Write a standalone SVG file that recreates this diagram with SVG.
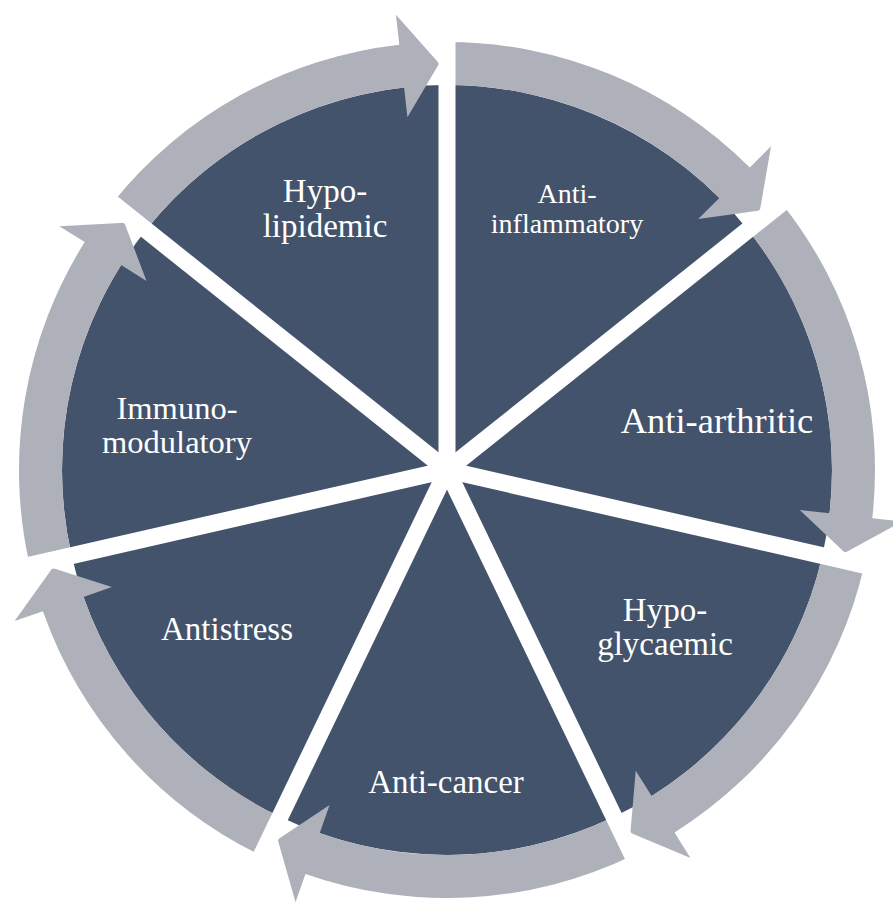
<svg xmlns="http://www.w3.org/2000/svg" xmlns:xlink="http://www.w3.org/1999/xlink" width="893" height="902" viewBox="0 0 893 902">
  <style>
    .wedge { fill: #43536b; }
    .arrow { fill: #aeb1b9; }
    .sep { stroke: #ffffff; stroke-width: 17; stroke-linecap: butt; }
    .lbl { font-family: "Liberation Serif", "Times New Roman", serif; fill: #ffffff; text-anchor: middle; }
  </style>
  <defs>
    <!-- one 1/7 wedge, local frame centred on the hub, starting straight up and running clockwise -->
    <path id="wedge" class="wedge" d="M0,0 L0,-385 A385,385 0 0 1 301.005,-240.044 Z"/>
    <!-- curved band along the wedge rim ending in an arrowhead at the next divider -->
    <path id="ringArrow" class="arrow" d="M0,-428 A428,428 0 0 1 302.794,-302.489 L324.018,-323.692 L312.895,-259.508 L251.149,-250.897 L272.373,-272.099 A385,385 0 0 0 0,-385 Z"/>
  </defs>
  <rect width="893" height="902" fill="#ffffff"/>

  <g id="hypolipidemic">
    <use xlink:href="#wedge" transform="translate(447 470) rotate(308.5714)"/>
    <text class="lbl" font-size="33"><tspan x="325" y="202">Hypo-</tspan><tspan x="325" y="237">lipidemic</tspan></text>
  </g>
  <g id="antiinflammatory">
    <use xlink:href="#wedge" transform="translate(447 470) rotate(0)"/>
    <text class="lbl" font-size="28"><tspan x="567" y="203">Anti-</tspan><tspan x="567" y="233">inflammatory</tspan></text>
  </g>
  <g id="antiarthritic">
    <use xlink:href="#wedge" transform="translate(447 470) rotate(51.4286)"/>
    <text class="lbl" font-size="36.5" x="717" y="433">Anti-arthritic</text>
  </g>
  <g id="hypoglycaemic">
    <use xlink:href="#wedge" transform="translate(447 470) rotate(102.8571)"/>
    <text class="lbl" font-size="33"><tspan x="665" y="621">Hypo-</tspan><tspan x="665" y="655">glycaemic</tspan></text>
  </g>
  <g id="anticancer">
    <use xlink:href="#wedge" transform="translate(447 470) rotate(154.2857)"/>
    <text class="lbl" font-size="33" x="446" y="793">Anti-cancer</text>
  </g>
  <g id="antistress">
    <use xlink:href="#wedge" transform="translate(447 470) rotate(205.7143)"/>
    <text class="lbl" font-size="33" x="227" y="640">Antistress</text>
  </g>
  <g id="immunomodulatory">
    <use xlink:href="#wedge" transform="translate(447 470) rotate(257.1429)"/>
    <text class="lbl" font-size="32.5"><tspan x="177" y="419">Immuno-</tspan><tspan x="177" y="453">modulatory</tspan></text>
  </g>

  <!-- clockwise cycle arrows round the rim -->
  <g id="connectors" transform="translate(447 470)">
    <use xlink:href="#ringArrow" transform="rotate(308.5714)"/>
    <use xlink:href="#ringArrow" transform="rotate(0)"/>
    <use xlink:href="#ringArrow" transform="rotate(51.4286)"/>
    <use xlink:href="#ringArrow" transform="rotate(102.8571)"/>
    <use xlink:href="#ringArrow" transform="rotate(154.2857)"/>
    <use xlink:href="#ringArrow" transform="rotate(205.7143)"/>
    <use xlink:href="#ringArrow" transform="rotate(257.1429)"/>
  </g>

  <!-- white dividers radiating from the hub -->
  <g id="dividers" class="sep" transform="translate(447 470)">
    <line x1="0" y1="0" x2="0" y2="-480" transform="rotate(0)"/>
    <line x1="0" y1="0" x2="0" y2="-480" transform="rotate(51.4286)"/>
    <line x1="0" y1="0" x2="0" y2="-480" transform="rotate(102.8571)"/>
    <line x1="0" y1="0" x2="0" y2="-480" transform="rotate(154.2857)"/>
    <line x1="0" y1="0" x2="0" y2="-480" transform="rotate(205.7143)"/>
    <line x1="0" y1="0" x2="0" y2="-480" transform="rotate(257.1429)"/>
    <line x1="0" y1="0" x2="0" y2="-480" transform="rotate(308.5714)"/>
    <circle cx="0" cy="0" r="11" fill="#ffffff" stroke="none"/>
  </g>
</svg>
